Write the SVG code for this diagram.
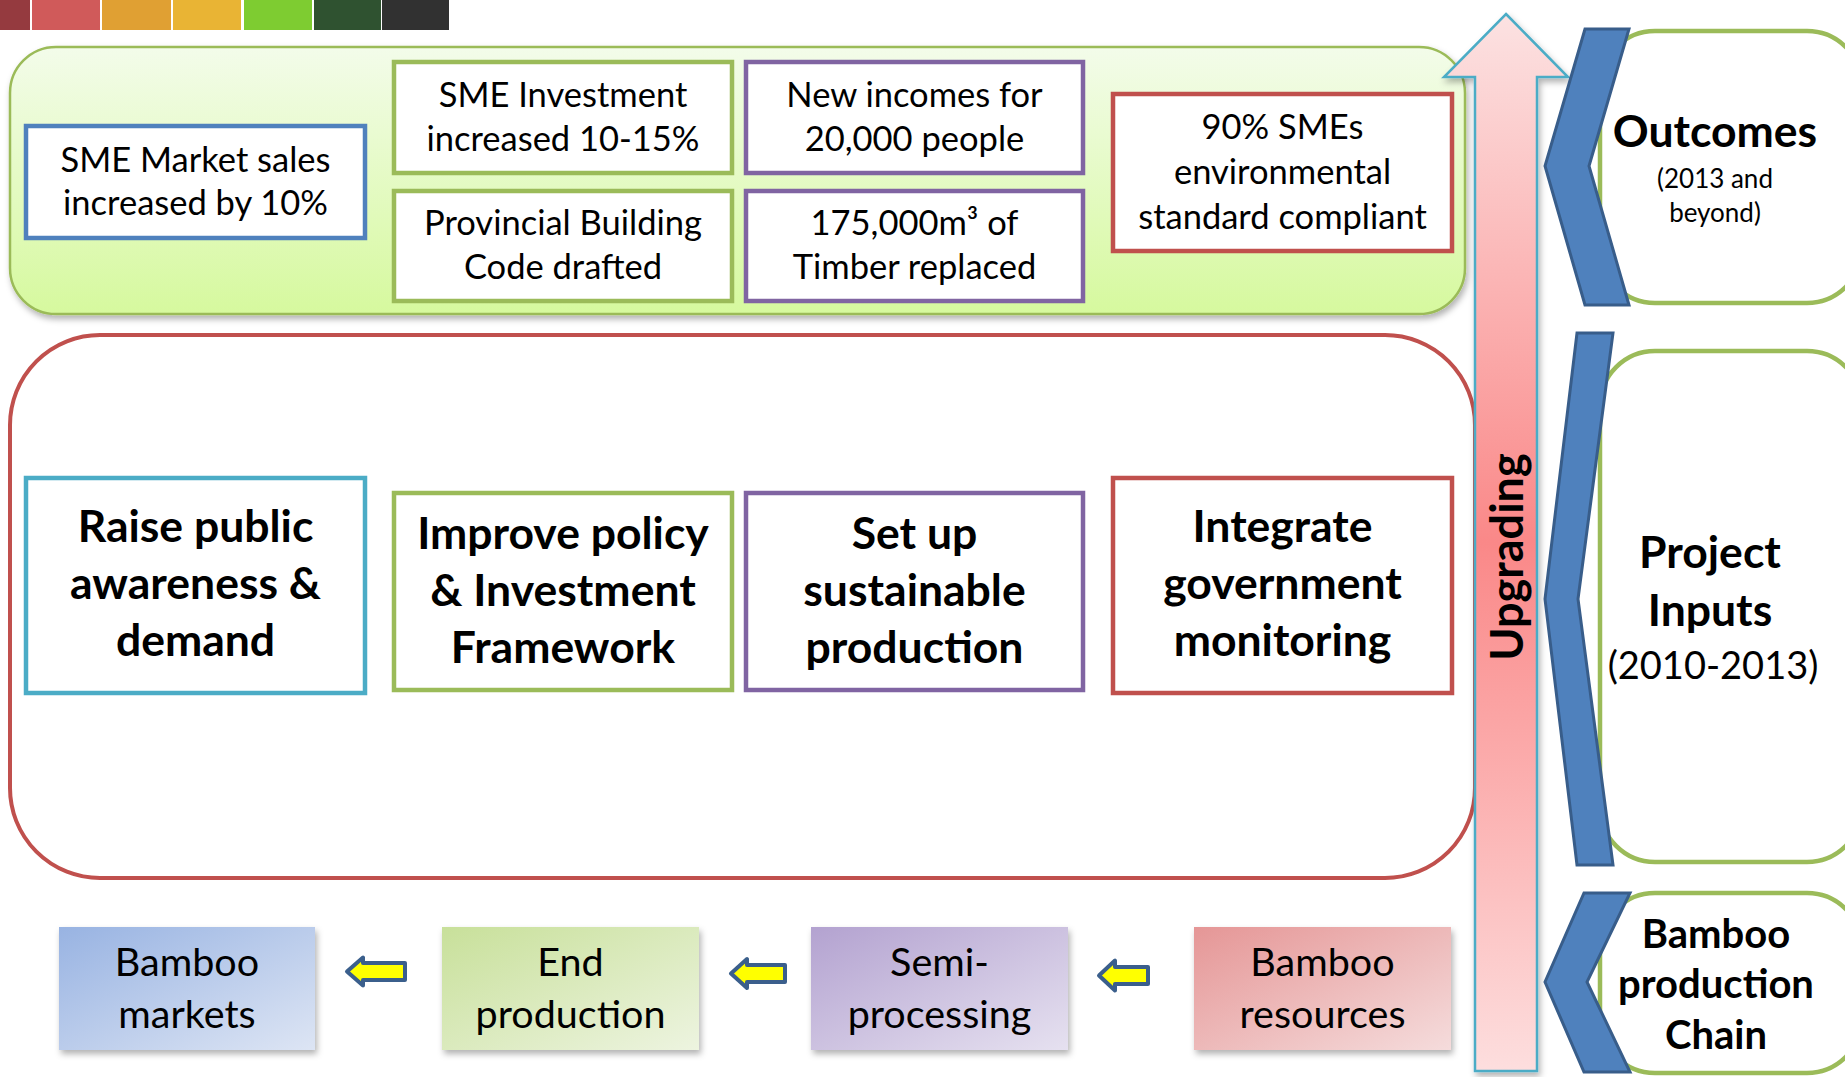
<svg xmlns="http://www.w3.org/2000/svg" width="1845" height="1077" viewBox="0 0 1845 1077">
<defs>
<style>
.t{font-family:Lato,"Liberation Sans",sans-serif;fill:#000;text-anchor:middle}
.r34{font-size:34.5px}
.b43{font-size:44.5px;font-weight:bold}
.b38{font-size:40px;font-weight:bold}
.r38{font-size:39.5px}
.box{fill:#fff;stroke-width:4.5}
.blue{stroke:#4F81BD}.green{stroke:#9BBB59}.purple{stroke:#8064A2}.red{stroke:#C0504D}.cyan{stroke:#4BACC6}
.chev{fill:#4F81BD;stroke:#385D8A;stroke-width:3;stroke-linejoin:miter}
.side{fill:#fff;stroke:#9BBB59;stroke-width:4.5}
.sa{fill:#FFFF00;stroke:#3B5F8C;stroke-width:4;stroke-linejoin:round}
</style>
<linearGradient id="gPanel" x1="0" y1="0" x2="0" y2="1">
<stop offset="0" stop-color="#F3FCEA"/><stop offset="1" stop-color="#D6F99E"/>
</linearGradient>
<linearGradient id="gArrow" gradientUnits="userSpaceOnUse" x1="0" y1="14" x2="0" y2="1071">
<stop offset="0" stop-color="#FCE2E2"/><stop offset="0.5" stop-color="#FA8888"/><stop offset="1" stop-color="#FDDEDE"/>
</linearGradient>
<linearGradient id="gBlue" x1="0" y1="0" x2="1" y2="1">
<stop offset="0" stop-color="#98B3E2"/><stop offset="1" stop-color="#DDE5F4"/>
</linearGradient>
<linearGradient id="gGreen" x1="0" y1="0" x2="1" y2="1">
<stop offset="0" stop-color="#C8E09A"/><stop offset="1" stop-color="#EDF4E0"/>
</linearGradient>
<linearGradient id="gPurple" x1="0" y1="0" x2="1" y2="1">
<stop offset="0" stop-color="#B3A2D0"/><stop offset="1" stop-color="#E6E1F0"/>
</linearGradient>
<linearGradient id="gRed" x1="0" y1="0" x2="1" y2="1">
<stop offset="0" stop-color="#E59696"/><stop offset="1" stop-color="#F5DCDC"/>
</linearGradient>
<filter id="sh" x="-10%" y="-10%" width="120%" height="130%">
<feDropShadow dx="2" dy="4" stdDeviation="3" flood-color="#000" flood-opacity="0.3"/>
</filter>
</defs>

<g id="colorStrip">
<rect x="0" y="0" width="30" height="30" fill="#953A3F"/>
<rect x="32" y="0" width="68" height="30" fill="#D05A5A"/>
<rect x="102" y="0" width="69" height="30" fill="#E0A033"/>
<rect x="173" y="0" width="68" height="30" fill="#E9B434"/>
<rect x="244" y="0" width="68" height="30" fill="#7ECC31"/>
<rect x="314" y="0" width="67" height="30" fill="#2F5230"/>
<rect x="382" y="0" width="67" height="30" fill="#313131"/>
</g>

<g id="outcomesPanel">
<rect x="10" y="47" width="1455" height="267" rx="46" fill="url(#gPanel)" stroke="#9BBB59" stroke-width="2.5" filter="url(#sh)"/>
</g>
<g id="smeMarket">
<rect class="box blue" x="26" y="126" width="339" height="112"/>
<text class="t r34" x="195.5" y="172">SME Market sales</text>
<text class="t r34" x="195.5" y="215">increased by 10%</text>
</g>
<g id="smeInvestment">
<rect class="box green" x="394" y="62" width="338" height="111"/>
<text class="t r34" x="563" y="107">SME Investment</text>
<text class="t r34" x="563" y="151">increased 10-15%</text>
</g>
<g id="buildingCode">
<rect class="box green" x="394" y="191" width="338" height="110"/>
<text class="t r34" x="563" y="235">Provincial Building</text>
<text class="t r34" x="563" y="279">Code drafted</text>
</g>
<g id="newIncomes">
<rect class="box purple" x="746" y="62" width="337" height="111"/>
<text class="t r34" x="914.5" y="107">New incomes for</text>
<text class="t r34" x="914.5" y="151">20,000 people</text>
</g>
<g id="timber">
<rect class="box purple" x="746" y="191" width="337" height="110"/>
<text class="t r34" x="914.5" y="235">175,000m³ of</text>
<text class="t r34" x="914.5" y="279">Timber replaced</text>
</g>
<g id="smeCompliant">
<rect class="box red" x="1113" y="94" width="339" height="157"/>
<text class="t r34" x="1282.5" y="139">90% SMEs</text>
<text class="t r34" x="1282.5" y="184">environmental</text>
<text class="t r34" x="1282.5" y="229">standard compliant</text>
</g>

<g id="inputsPanel">
<rect x="10" y="335" width="1465" height="543" rx="90" fill="#fff" stroke="#C0504D" stroke-width="4"/>
</g>
<g id="raiseAwareness">
<rect class="box cyan" x="26" y="478" width="339" height="215"/>
<text class="t b43" x="195.5" y="542">Raise public</text>
<text class="t b43" x="195.5" y="599">awareness &amp;</text>
<text class="t b43" x="195.5" y="656">demand</text>
</g>
<g id="improvePolicy">
<rect class="box green" x="394" y="493" width="338" height="197"/>
<text class="t b43" x="563" y="549">Improve policy</text>
<text class="t b43" x="563" y="606">&amp; Investment</text>
<text class="t b43" x="563" y="663">Framework</text>
</g>
<g id="sustainableProduction">
<rect class="box purple" x="746" y="493" width="337" height="197"/>
<text class="t b43" x="914.5" y="549">Set up</text>
<text class="t b43" x="914.5" y="606">sustainable</text>
<text class="t b43" x="914.5" y="663">production</text>
</g>
<g id="governmentMonitoring">
<rect class="box red" x="1113" y="478" width="339" height="215"/>
<text class="t b43" x="1282.5" y="542">Integrate</text>
<text class="t b43" x="1282.5" y="599">government</text>
<text class="t b43" x="1282.5" y="656">monitoring</text>
</g>

<g id="upgradingArrow">
<path d="M1506,14 L1568,77 L1537,77 L1537,1071 L1475,1071 L1475,77 L1444,77 Z" fill="url(#gArrow)" stroke="#4BACC6" stroke-width="2.5" filter="url(#sh)"/>
<text class="t" style="font-size:45px;font-weight:bold" transform="translate(1523,557) rotate(-90)" x="0" y="0">Upgrading</text>
</g>

<g id="bambooMarkets">
<rect x="59" y="927" width="256" height="123" fill="url(#gBlue)" filter="url(#sh)"/>
<text class="t r38" x="187" y="976">Bamboo</text>
<text class="t r38" x="187" y="1028">markets</text>
</g>
<g id="endProduction">
<rect x="442" y="927" width="257" height="123" fill="url(#gGreen)" filter="url(#sh)"/>
<text class="t r38" x="570.5" y="976">End</text>
<text class="t r38" x="570.5" y="1028">production</text>
</g>
<g id="semiProcessing">
<rect x="811" y="927" width="257" height="123" fill="url(#gPurple)" filter="url(#sh)"/>
<text class="t r38" x="939.5" y="976">Semi-</text>
<text class="t r38" x="939.5" y="1028">processing</text>
</g>
<g id="bambooResources">
<rect x="1194" y="927" width="257" height="123" fill="url(#gRed)" filter="url(#sh)"/>
<text class="t r38" x="1322.5" y="976">Bamboo</text>
<text class="t r38" x="1322.5" y="1028">resources</text>
</g>

<g id="connectors">
<path class="sa" d="M347,971.5 L363,957.5 L363,963 L405,963 L405,980 L363,980 L363,985.5 Z"/>
<path class="sa" d="M731,973.5 L747,959 L747,965 L785,965 L785,982 L747,982 L747,988 Z"/>
<path class="sa" d="M1099,975.5 L1115,960.5 L1115,967 L1148,967 L1148,984 L1115,984 L1115,990.5 Z"/>
</g>

<g id="outcomesLabel">
<rect class="side" x="1600" y="31" width="262" height="272" rx="55"/>
<path class="chev" d="M1585,29 L1629,29 L1589,166 L1629,305 L1585,305 L1545,166 Z"/>
<text class="t b43" x="1715" y="147">Outcomes</text>
<text class="t" style="font-size:26px" x="1715" y="188">(2013 and</text>
<text class="t" style="font-size:26px" x="1715" y="222">beyond)</text>
</g>
<g id="inputsLabel">
<rect class="side" x="1600" y="351" width="262" height="511" rx="55"/>
<path class="chev" d="M1577,333 L1613,333 L1578,599 L1613,865 L1577,865 L1545,599 Z"/>
<text class="t b43" x="1710" y="568">Project</text>
<text class="t b43" x="1710" y="626">Inputs</text>
<text class="t" style="font-size:38px" x="1713" y="679">(2010-2013)</text>
</g>
<g id="chainLabel">
<rect class="side" x="1600" y="893" width="262" height="180" rx="55"/>
<path class="chev" d="M1584,893 L1630,893 L1587,982 L1630,1072 L1584,1072 L1545,982 Z"/>
<text class="t b38" x="1716" y="948">Bamboo</text>
<text class="t b38" x="1716" y="998">production</text>
<text class="t b38" x="1716" y="1049">Chain</text>
</g>
</svg>
